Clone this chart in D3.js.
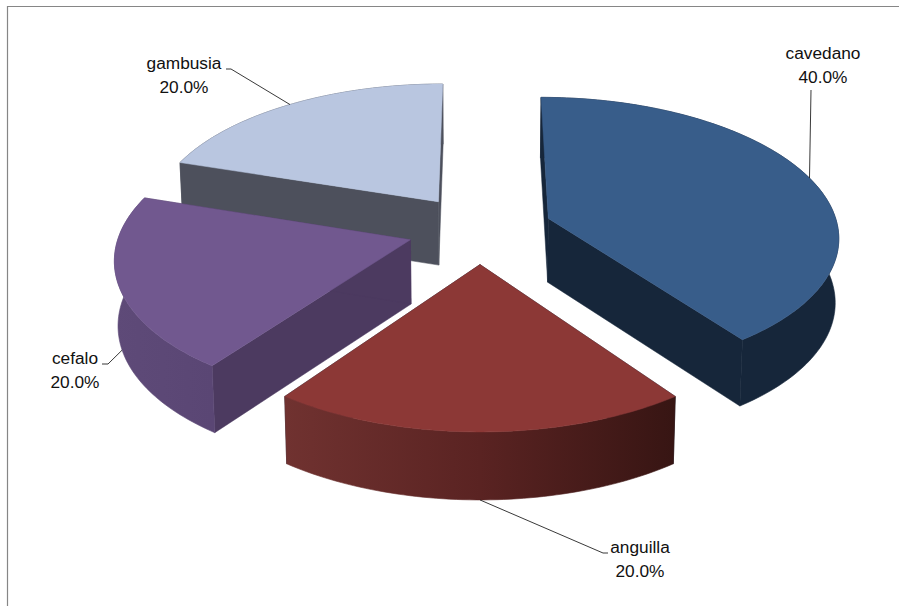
<!DOCTYPE html>
<html><head><meta charset="utf-8">
<script src="https://cdn.jsdelivr.net/npm/d3@7"></script>
<style>html,body{margin:0;padding:0;background:#fff}svg{display:block}text{font-family:"Liberation Sans",Arial,sans-serif;font-size:17.3px;fill:#111}</style>
</head><body><div id="chart"></div>
<script>
const categories = ["cavedano","anguilla","cefalo","gambusia"];
const values = [40,20,20,20];
const percentLabels = ["40.0%","20.0%","20.0%","20.0%"];
const topColors = ["#385d8a","#8c3836","#71588f","#b9c6e0"];
const cutColors = ["#16263a","#16263a","#4c3a60","#4d505c"];
const rimColors = [["#16263a","#16263a"],["#703230","#5a2322","#371513"],["#5e4a78","#5a4674"],["#4d505c","#4d505c"]];

const W=899,H=606;
const view={cx:480,cy:229,A:290,B:138,p:0.12,explode:0.25,D:64,q:0.05,shrink:0.99};
// label layout: text centre and first baseline, plus leader routing
const labelLayout=[
 {x:823,y:59,rim:"top",elbow:[[811,90]]},
 {x:640,y:553,rim:"bottom",elbow:[[603,553],[608,553]]},
 {x:75,y:364,rim:"bottom",elbow:[[108,364],[102,364]]},
 {x:184,y:69,rim:"top",elbow:[[231,69],[226,69]]}
];

const svg=d3.select("#chart").append("svg").attr("width",W).attr("height",H);
const defs=svg.append("defs");
svg.append("path").attr("d",d3.line()([[W,6.5],[7.5,6.5],[7.5,H]])).attr("fill","none").attr("stroke","#868686").attr("stroke-width",1.2);

const arcs=d3.pie().sort(null).startAngle(0).endAngle(2*Math.PI)(values);
const project=(X,Y)=>{const s=1/(1-view.p*Y);return [view.cx+view.A*X*s,view.cy+view.B*Y*s];};
const lower=(X,Y)=>{const [x,y]=project(X,Y);return [view.cx+(x-view.cx)*view.shrink,y+view.D*(1+view.q*Y)];};
const offset=a=>{const m=(a.startAngle+a.endAngle)/2;return [view.explode*Math.sin(m),-view.explode*Math.cos(m)];};
const planar=(a,t)=>{const [ox,oy]=offset(a);return [ox+Math.sin(t),oy-Math.cos(t)];};
const apex=a=>offset(a);
const line=d3.line();
const closed=pts=>line(pts)+"Z";

const order=[3,0,2,1];
order.forEach(i=>{
  const a=arcs[i];
  const n=Math.ceil((a.endAngle-a.startAngle)/0.02);
  const ts=d3.range(n+1).map(k=>a.startAngle+(a.endAngle-a.startAngle)*k/n);
  const rim=ts.map(t=>planar(a,t));
  const c=apex(a);
  const g=svg.append("g");
  const first=rim[0],last=rim[rim.length-1];
  // cut walls
  [first,last].forEach(p=>{
    g.append("path").attr("d",closed([project(...c),project(...p),lower(...p),lower(...c)])).attr("fill",cutColors[i]).attr("stroke",cutColors[i]).attr("stroke-width",.5);
  });
  // rim band
  const xs=rim.map(p=>project(...p)[0]);
  const id="rim"+i;
  const grad=defs.append("linearGradient").attr("id",id).attr("gradientUnits","userSpaceOnUse")
    .attr("x1",d3.min(xs)).attr("x2",d3.max(xs)).attr("y1",0).attr("y2",0);
  rimColors[i].forEach((col,k)=>grad.append("stop").attr("offset",k/(rimColors[i].length-1)).attr("stop-color",col));
  g.append("path").attr("d",closed(rim.map(p=>project(...p)).concat(rim.slice().reverse().map(p=>lower(...p))))).attr("fill",`url(#${id})`).attr("stroke",`url(#${id})`).attr("stroke-width",.6);
  // top face
  g.append("path").attr("d",closed([project(...c)].concat(rim.map(p=>project(...p))))).attr("fill",topColors[i]).attr("stroke",topColors[i]).attr("stroke-width",.5);
});

// labels and leaders
arcs.forEach((a,i)=>{
  const L=labelLayout[i];
  const m=(a.startAngle+a.endAngle)/2;
  const p=planar(a,m);
  const anchor=L.rim==="top"?project(...p):lower(...p);
  svg.append("path").attr("d",line([anchor,...L.elbow])).attr("fill","none").attr("stroke","#222").attr("stroke-width",.9);
  const t=svg.append("text").attr("text-anchor","middle");
  t.append("tspan").attr("x",L.x).attr("y",L.y).text(categories[i]);
  t.append("tspan").attr("x",L.x).attr("y",L.y+24).text(percentLabels[i]);
});
</script></body></html>
